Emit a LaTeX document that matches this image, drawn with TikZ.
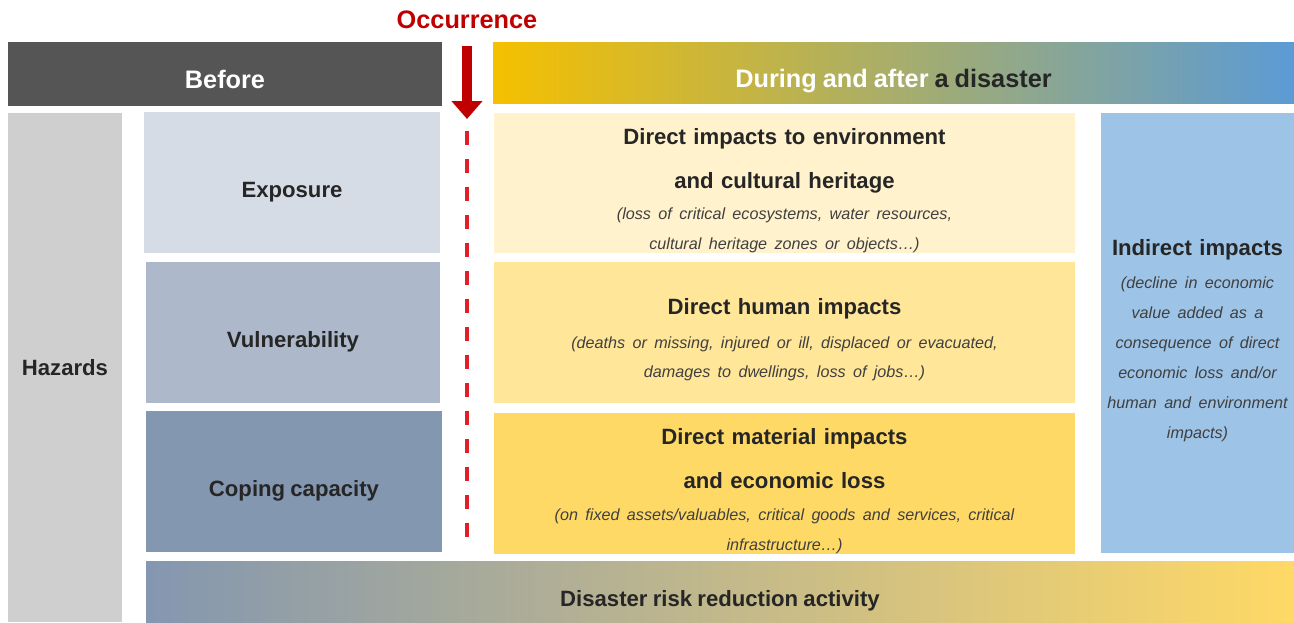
\documentclass[tikz,border=0pt]{standalone}
\usepackage{fontspec}
\setmainfont{Liberation Sans}[WordSpace=0.85]
\usepackage{tikz}
\usetikzlibrary{arrows.meta,positioning}
\usepackage{xcolor}
\definecolor{beforegray}{RGB}{85,85,85}
\definecolor{occred}{RGB}{192,0,0}
\definecolor{dashred}{RGB}{226,30,40}
\definecolor{hazgray}{RGB}{208,207,208}
\definecolor{expofill}{RGB}{214,220,229}
\definecolor{vulnfill}{RGB}{173,185,202}
\definecolor{copefill}{RGB}{132,151,176}
\definecolor{envfill}{RGB}{255,242,204}
\definecolor{humanfill}{RGB}{255,230,153}
\definecolor{matfill}{RGB}{255,217,102}
\definecolor{indfill}{RGB}{157,195,230}
\definecolor{duryellow}{RGB}{245,192,0}
\definecolor{durblue}{RGB}{91,155,213}
\definecolor{textdark}{RGB}{38,38,38}
\definecolor{notegray}{RGB}{64,64,64}
\newcommand{\headfont}{\fontsize{14.4}{17}\selectfont\bfseries}
\newcommand{\titlefont}{\fontsize{12.6}{25}\selectfont\bfseries}
\newcommand{\note}[1]{{\fontsize{9.2}{17}\selectfont\mdseries\itshape\textcolor{notegray}{#1}\par}}

\begin{document}
\begin{tikzpicture}[x=0.02cm,y=-0.02cm,
  box/.style={rectangle,inner sep=0pt,text=textdark,font=\titlefont},
  lowtext/.style={text height=19pt,text depth=2pt},
  impact/.style={box,text width=11.2cm,align=center,minimum width=11.62cm,minimum height=2.81cm,
    execute at end node={\vspace{-0.3cm}}}]
% \draw[help lines] (0,0) grid (1294,622);
\useasboundingbox (0,0) rectangle (1294,622);
%
\node (occ) [font=\headfont,text=occred] at (467,20) {Occurrence};
\node (before) [box,lowtext,fill=beforegray,text=white,font=\headfont,minimum width=8.68cm,minimum height=1.28cm] at (225,74) {Before};
\node (during) [box,lowtext,left color=duryellow,right color=durblue,font=\headfont,minimum width=16.02cm,minimum height=1.24cm] at (893.5,73) {\textcolor{white}{During and after} a disaster};
%
\node (hazards) [box,fill=hazgray,minimum width=2.28cm,minimum height=10.18cm] at (65,367.5) {Hazards};
\node (expo) [box,lowtext,fill=expofill,minimum width=5.92cm,minimum height=2.82cm] at (292,182.5) {Exposure};
\node (vuln) [box,lowtext,fill=vulnfill,minimum width=5.88cm,minimum height=2.82cm] at (293,332.5) {Vulnerability};
\node (cope) [box,lowtext,fill=copefill,minimum width=5.92cm,minimum height=2.82cm] at (294,481.5) {Coping capacity};
%
\node (env) [impact,fill=envfill] at (784.5,183) {Direct impacts to environment\\and cultural heritage\par\vspace{1pt}
  \note{(loss of critical ecosystems, water resources,\\cultural heritage zones or objects\ldots)}};
\node (human) [impact,fill=humanfill] at (784.5,332.5) {Direct human impacts\par\vspace{2pt}
  \note{(deaths or missing, injured or ill, displaced or evacuated,\\damages to dwellings, loss of jobs\ldots)}};
\node (mat) [impact,fill=matfill] at (784.5,483.5) {Direct material impacts\\and economic loss\par\vspace{1pt}
  \note{(on fixed assets/valuables, critical goods and services, critical\\infrastructure\ldots)}};
\node (indirect) [box,fill=indfill,text width=3.8cm,align=center,minimum width=3.86cm,minimum height=8.8cm,
  execute at end node={\vspace{-0.3cm}}] at (1197.5,333) {Indirect impacts\par\vspace{2pt}
  \note{(decline in economic\\value added as a\\consequence of direct\\economic loss and/or\\human and environment\\impacts)}};
%
\node (drr) [box,lowtext,left color=copefill,right color=matfill,minimum width=22.96cm,minimum height=1.22cm] at (720,591.5) {Disaster risk reduction activity};
%
\coordinate (occtop) at (467,46);
\coordinate (occtip) at (467,119);
\coordinate (dashtop) at (467,131);
\coordinate (dashbot) at (467,548);
\draw[occred,line width=0.2cm,-{Triangle[width=0.6cm,length=0.36cm]}] (occtop) -- (occtip);
\draw[dashred,line width=0.08cm,dash pattern=on 0.28cm off 0.28cm] (dashtop) -- (dashbot);
\end{tikzpicture}
\end{document}
